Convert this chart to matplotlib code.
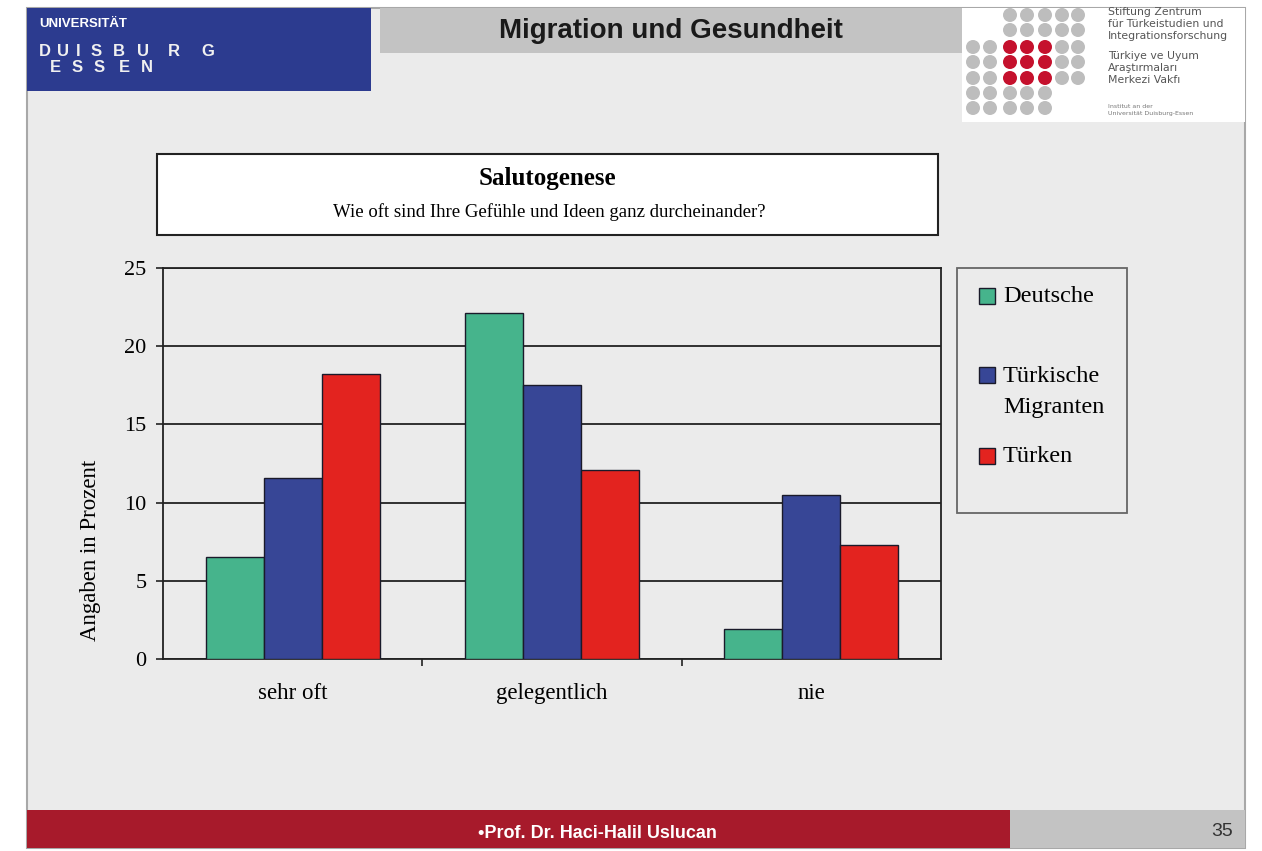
import matplotlib
matplotlib.use("Agg")
import matplotlib.pyplot as plt
from matplotlib.patches import Rectangle, Circle
import numpy as np

# ---- data ----
categories = ["sehr oft", "gelegentlich", "nie"]
series_names = ["Deutsche", "Türkische\nMigranten", "Türken"]
deutsche = [6.5, 22.1, 1.9]
tuerk_migranten = [11.6, 17.5, 10.5]
tuerken = [18.2, 12.1, 7.3]
y_ticks = [0, 5, 10, 15, 20, 25]
series_colors = ["#46b48c", "#374696", "#e3231f"]

W, H = 1262, 851
fig = plt.figure(figsize=(W / 100, H / 100), dpi=100)
fig.patch.set_facecolor("white")

# overlay in pixel coords
bg = fig.add_axes([0, 0, 1, 1], zorder=0)
bg.set_xlim(0, W)
bg.set_ylim(H, 0)
bg.axis("off")

SERIF = ["Liberation Serif", "DejaVu Serif"]
SANS = ["Liberation Sans", "DejaVu Sans"]

# slide background
bg.add_patch(Rectangle((27, 8), 1218, 840, facecolor="#ebebeb", edgecolor="#a8a8a8", lw=1.5))

# header
bg.add_patch(Rectangle((27, 8), 344, 83, facecolor="#2c3b8f", edgecolor="none"))
bg.text(39, 24, "UNIVERSITÄT", color="white", fontsize=9.5, fontweight="bold", family=SANS, va="center")
for ch, xx in zip("DUISBURG", [45, 63, 78, 96, 119, 143, 174, 208]):
    bg.text(xx, 52, ch, color="#f0f0f0", fontsize=12, fontweight="bold", family=SANS, ha="center", va="center")
for ch, xx in zip("ESSEN", [55, 77, 99, 124, 147]):
    bg.text(xx, 68, ch, color="#f0f0f0", fontsize=12, fontweight="bold", family=SANS, ha="center", va="center")
bg.add_patch(Rectangle((380, 8), 582, 45, facecolor="#c3c3c3", edgecolor="none"))
bg.text(671, 31, "Migration und Gesundheit", color="#1a1a1a", fontsize=20, fontweight="bold",
        family=SANS, ha="center", va="center")

# logo
bg.add_patch(Rectangle((962, 8), 283, 114, facecolor="white", edgecolor="none"))
col_x = [973, 990, 1010, 1027, 1045, 1062, 1078]
row_y = [15, 30, 47, 62, 78, 93, 108]
for ri, yy in enumerate(row_y):
    for ci, xx in enumerate(col_x):
        if ri < 2 and ci < 2:
            continue
        if ri >= 5 and ci >= 5:
            continue
        red = (2 <= ri <= 4) and (2 <= ci <= 4)
        bg.add_patch(Circle((xx, yy), 7, facecolor="#c5112d" if red else "#bdbdbd", edgecolor="none"))
logo_lines = [("Stiftung Zentrum", 12), ("für Türkeistudien und", 24), ("Integrationsforschung", 36),
              ("Türkiye ve Uyum", 56), ("Araştırmaları", 68), ("Merkezi Vakfı", 80)]
for t, yy in logo_lines:
    bg.text(1108, yy, t, fontsize=7.8, color="#555555", family=["DejaVu Sans"], va="center")
bg.text(1108, 107, "Institut an der", fontsize=4.5, color="#777777", family=["DejaVu Sans"], va="center")
bg.text(1108, 114, "Universität Duisburg-Essen", fontsize=4.5, color="#777777", family=["DejaVu Sans"], va="center")

# title box
bg.add_patch(Rectangle((157, 154), 781, 81, facecolor="white", edgecolor="#222222", lw=1.5))
bg.text(547, 178, "Salutogenese", fontsize=18, fontweight="bold", family=SERIF, ha="center", va="center")
bg.text(549, 212, "Wie oft sind Ihre Gefühle und Ideen ganz durcheinander?", fontsize=13.5,
        family=SERIF, ha="center", va="center")

# footer
bg.add_patch(Rectangle((27, 810), 983, 38, facecolor="#a71a2b", edgecolor="none"))
bg.add_patch(Rectangle((1010, 810), 235, 38, facecolor="#c3c3c3", edgecolor="none"))
bg.text(597, 834, "•Prof. Dr. Haci-Halil Uslucan", color="white", fontsize=13, fontweight="bold",
        family=SANS, ha="center", va="center")
bg.text(1222, 831, "35", color="#333333", fontsize=14, family=SANS, ha="center", va="center")

# main chart axes
L, R, T, B = 163, 941, 268, 659
ax = fig.add_axes([L / W, (H - B) / H, (R - L) / W, (B - T) / H], zorder=2)
ax.set_facecolor("none")
x = np.arange(len(categories))
bw = 0.224
all_series = [deutsche, tuerk_migranten, tuerken]
for i, (vals, col) in enumerate(zip(all_series, series_colors)):
    ax.bar(x + (i - 1) * bw, vals, width=bw, color=col, edgecolor="#1a1a2a", lw=1.0, zorder=3)

ax.set_xlim(-0.5, len(categories) - 0.5)
ax.set_ylim(0, 25)
ax.set_yticks(y_ticks)
ax.set_yticklabels([str(v) for v in y_ticks], fontsize=16, family=SERIF)
ax.yaxis.grid(True, color="#222222", lw=1.3, zorder=1)
ax.set_axisbelow(True)
ax.set_xticks(np.arange(len(categories) - 1) + 0.5)
ax.set_xticklabels([])
ax.set_xticks(x, minor=True)
ax.set_xticklabels(categories, minor=True, fontsize=16.5, family=SERIF)
ax.tick_params(axis="x", which="major", direction="out", length=5, width=1.2, color="#222222")
ax.tick_params(axis="x", which="minor", length=0, pad=17)
ax.tick_params(axis="y", direction="out", length=5, width=1.2, color="#222222", pad=7)
for s in ax.spines.values():
    s.set_color("#222222")
    s.set_linewidth(1.3)
ax.set_ylabel("Angaben in Prozent", fontsize=16.5, family=SERIF)
ax.yaxis.set_label_coords((101 - L) / (R - L), (B - 550) / (B - T))

# legend box
bg.add_patch(Rectangle((957, 268), 170, 245, facecolor="none", edgecolor="#666666", lw=1.3))
leg_y = [296, 375, 456]
for name, col, yy in zip(series_names, series_colors, leg_y):
    bg.add_patch(Rectangle((979, yy - 8), 16, 16, facecolor=col, edgecolor="#1a1a2a", lw=1.0))
    for k, line in enumerate(name.split("\n")):
        bg.text(1003, yy + 1 + k * 32, line, fontsize=17.5, family=SERIF, va="center")

fig.savefig("out.png", dpi=100)
